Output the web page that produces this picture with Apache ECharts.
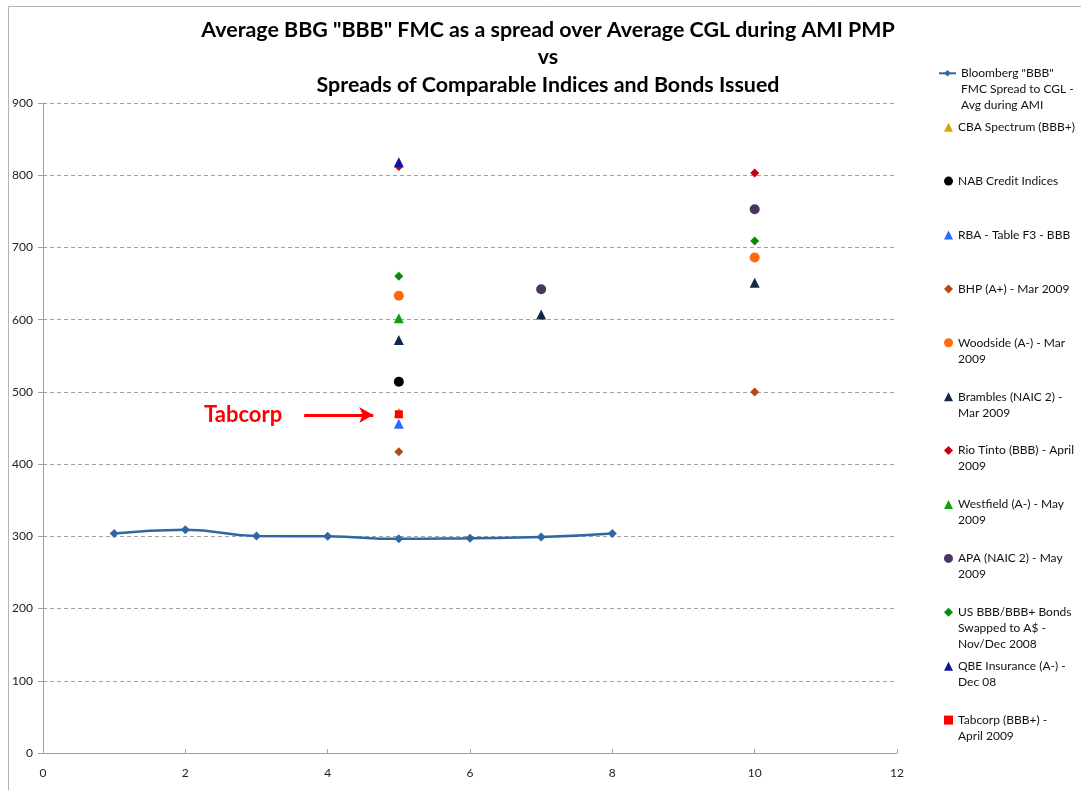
<!DOCTYPE html>
<html>
<head>
<meta charset="utf-8">
<script src="https://cdn.jsdelivr.net/npm/echarts@6/dist/echarts.min.js"></script>
<style>html,body{margin:0;padding:0;background:#fff;}#chart{width:1081px;height:790px;}</style>
</head>
<body>
<div id="chart"></div>
<script>
// ---- data ----
const titleLines = ['Average BBG "BBB" FMC as a spread over Average CGL during AMI PMP', 'vs', 'Spreads of Comparable Indices and Bonds Issued'];
const xTicks = [0, 2, 4, 6, 8, 10, 12];
const yTicks = [0, 100, 200, 300, 400, 500, 600, 700, 800, 900];

const bloombergName = 'Bloomberg "BBB"\nFMC Spread to CGL -\nAvg during AMI';
const bloombergX = [1, 2, 3, 4, 5, 6, 7, 8];
const bloombergY = [304, 309, 300.5, 300, 296.5, 297.5, 299, 304];

const cbaName = 'CBA Spectrum (BBB+)';
const cbaPts = [[5, 471]];
const nabName = 'NAB Credit Indices';
const nabPts = [[5, 514]];
const rbaName = 'RBA - Table F3 - BBB';
const rbaPts = [[5, 456]];
const bhpName = 'BHP (A+) - Mar 2009';
const bhpPts = [[5, 417], [10, 500]];
const woodsideName = 'Woodside (A-) - Mar\n2009';
const woodsidePts = [[5, 633], [10, 686]];
const bramblesName = 'Brambles (NAIC 2) -\nMar 2009';
const bramblesPts = [[5, 572], [7, 607], [10, 651]];
const rioName = 'Rio Tinto (BBB) - April\n2009';
const rioPts = [[5, 812], [10, 803]];
const westfieldName = 'Westfield (A-) - May\n2009';
const westfieldPts = [[5, 602]];
const apaName = 'APA (NAIC 2) - May\n2009';
const apaPts = [[7, 642], [10, 753]];
const usName = 'US BBB/BBB+ Bonds\nSwapped to A$ -\nNov/Dec 2008';
const usPts = [[5, 660], [10, 709]];
const qbeName = 'QBE Insurance (A-) -\nDec 08';
const qbePts = [[5, 818]];
const tabcorpName = 'Tabcorp (BBB+) -\nApril 2009';
const tabcorpPts = [[5, 469]];

const annotationText = 'Tabcorp';
const annotationArrow = [[3.67, 468], [4.64, 468]];

// ---- chart ----
const FONT = 'Lato, "Open Sans", sans-serif';
const scatterDefs = [
  [cbaName, cbaPts, 'triangle', 10, '#d4a30c'],
  [nabName, nabPts, 'circle', 10, '#000000'],
  [rbaName, rbaPts, 'triangle', 10, '#2a6cff'],
  [bhpName, bhpPts, 'diamond', 9, '#b24a12'],
  [woodsideName, woodsidePts, 'circle', 10, '#ff6a0a'],
  [bramblesName, bramblesPts, 'triangle', 10, '#0f2a48'],
  [rioName, rioPts, 'diamond', 9, '#c00010'],
  [westfieldName, westfieldPts, 'triangle', 10, '#10a010'],
  [apaName, apaPts, 'circle', 10, '#4a3562'],
  [usName, usPts, 'diamond', 9, '#0a8a0a'],
  [qbeName, qbePts, 'triangle', 10, '#12129a'],
  [tabcorpName, tabcorpPts, 'rect', 8, '#ff0000']
];

const series = [{
  name: bloombergName,
  type: 'line',
  smooth: true,
  data: bloombergX.map((x, i) => [x, bloombergY[i]]),
  symbol: 'diamond',
  symbolSize: 9,
  lineStyle: { color: '#2e67a3', width: 2.5 },
  itemStyle: { color: '#2e67a3' },
  z: 2
}];
scatterDefs.forEach(d => {
  series.push({
    name: d[0], type: 'scatter', data: d[1], symbol: d[2], symbolSize: d[3],
    itemStyle: { color: d[4], opacity: 1 }, z: 3
  });
});
// annotation arrow + text on Tabcorp series
series[series.length - 1].markLine = {
  silent: true,
  animation: false,
  symbol: ['none', 'arrow'],
  symbolSize: [12, 14],
  lineStyle: { color: '#ff0000', width: 3, type: 'solid', opacity: 1 },
  label: {
    show: true, position: 'start', formatter: annotationText, distance: 22,
    color: '#ff0000', fontWeight: 'bold', fontSize: 22, fontFamily: FONT
  },
  data: [[{ coord: annotationArrow[0] }, { coord: annotationArrow[1] }]]
};

// legends: one per series; leading blank lines keep the icon on the first text line
const allNames = [bloombergName].concat(scatterDefs.map(d => d[0]));
const legendFirstLine = 73.3, legendStep = 53.9, LH = 16;
const legends = allNames.map((name, i) => {
  const n = name.split('\n').length;
  const c = legendFirstLine + legendStep * i;
  const isLine = i === 0;
  const iw = isLine ? 17 : 9, ih = isLine ? 8 : 9;
  return {
    data: [name],
    orient: 'vertical',
    left: isLine ? 938 : 944,
    top: c - (2 * n - 1) * LH / 2,
    padding: 0,
    itemWidth: iw,
    itemHeight: ih,
    selectedMode: false,
    formatter: nm => '\n'.repeat(n - 1) + nm,
    textStyle: { fontFamily: FONT, fontSize: 12, color: '#111', lineHeight: LH }
  };
});

const chart = echarts.init(document.getElementById('chart'), null, { renderer: 'canvas' });
chart.setOption({
  animation: false,
  backgroundColor: '#ffffff',
  title: {
    text: titleLines.join('\n'),
    left: 543, top: 11,
    textAlign: 'center',
    textStyle: { fontFamily: FONT, fontWeight: 'bold', fontSize: 21.4, lineHeight: 27.5, color: '#000' }
  },
  graphic: [{
    type: 'rect', left: 6, top: 4, shape: { width: 1200, height: 900 },
    style: { fill: 'none', stroke: '#b4b4b4', lineWidth: 1 }, silent: true, z: -1
  }],
  legend: legends,
  grid: { left: 43, right: 184, top: 103, bottom: 37, containLabel: false },
  xAxis: {
    type: 'value', min: xTicks[0], max: xTicks[xTicks.length - 1], interval: 2,
    axisLine: { show: true, lineStyle: { color: '#a0a0a0', width: 1 } },
    axisTick: { show: true, inside: true, length: 4, lineStyle: { color: '#a0a0a0' } },
    axisLabel: { color: '#222', fontFamily: FONT, fontSize: 12, margin: 14 },
    splitLine: { show: false }
  },
  yAxis: {
    type: 'value', min: yTicks[0], max: yTicks[yTicks.length - 1], interval: 100,
    axisLine: { show: true, lineStyle: { color: '#a0a0a0', width: 1 } },
    axisTick: { show: true, inside: false, length: 5, lineStyle: { color: '#a0a0a0' } },
    axisLabel: { color: '#222', fontFamily: FONT, fontSize: 12, margin: 10 },
    splitLine: { show: true, lineStyle: { color: '#a0a0a0', type: [4, 3], width: 1 } }
  },
  series: series
});
</script>
</body>
</html>
